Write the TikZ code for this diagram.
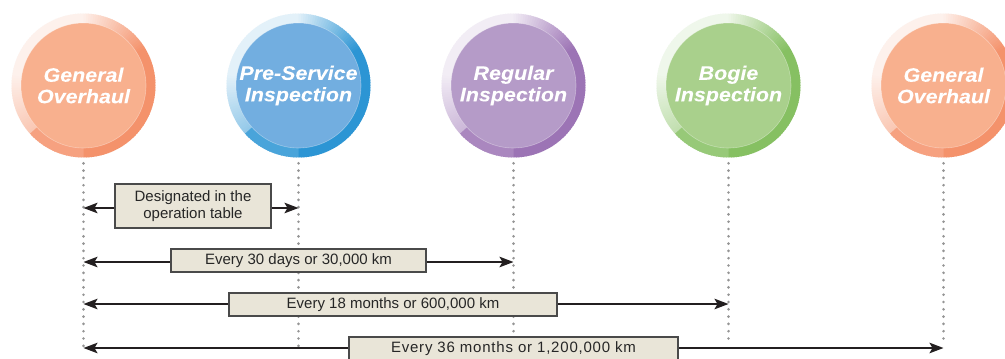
\documentclass[tikz,border=0pt]{standalone}
\usepackage{fontspec}
\setmainfont{Liberation Sans}
\newfontfamily\circfont[FakeStretch=1.1,FakeBold=1.3]{Liberation Sans}
\usetikzlibrary{arrows.meta}
\definecolor{orD}{HTML}{F4926B}
\definecolor{orF}{HTML}{F8B08E}
\definecolor{blD}{HTML}{2C95D4}
\definecolor{blF}{HTML}{72AEE0}
\definecolor{puD}{HTML}{9C74B5}
\definecolor{puF}{HTML}{B59BC8}
\definecolor{grD}{HTML}{86C062}
\definecolor{grF}{HTML}{A9D08C}
\definecolor{boxF}{HTML}{E9E5D8}
\definecolor{boxD}{HTML}{4A4A4A}
\definecolor{arrC}{HTML}{231F20}
\definecolor{dotC}{HTML}{959595}
\newcommand\drawring[3]{%
  \foreach \a in {0,2,...,358}{%
    \pgfmathsetmacro\p{\a<30 ? 100 : (\a<90 ? 100-(\a-30)*1.45 : (\a<170 ? 13 : (\a<222 ? 13+(\a-170)*0.75 : (\a<270 ? 86 : 100))))}%
    \fill[#3!\p!white] (#1,#2) -- ++(\a:72pt) arc[start angle=\a, end angle=\a+2.6, radius=72pt] -- cycle;
  }}
\tikzset{
  inner/.style={circle, fill=#1, draw=white, draw opacity=0.35, line width=0.6pt,
    minimum size=125pt, inner sep=0pt, align=center, text=white,
    font=\circfont\bfseries\itshape\fontsize{19.5}{21.5}\selectfont},
  dotline/.style={draw=dotC, line width=2.9pt, line cap=round, dash pattern=on 0pt off 7.3pt},
  tip/.style={},
  arr/.style={draw=arrC, line width=1.9pt, {Stealth[length=14pt,width=10.5pt,inset=3pt]}-{Stealth[length=14pt,width=10.5pt,inset=3pt]}},
  tbox/.style={draw=boxD, fill=boxF, line width=1.1pt, inner sep=0pt, align=center,
    font=\fontsize{15}{17.5}\selectfont, text=black!85}
}
\begin{document}
\begin{tikzpicture}[x=1pt, y=-1pt]
\useasboundingbox (0,0) rectangle (1005,359);
\fill[white] (0,0) rectangle (1005,359);
% circles
\drawring{83.5}{85.5}{orD}
\node[inner=orF] (go1) at (83.5,85.5) {General\\Overhaul};
\drawring{298.5}{85.5}{blD}
\node[inner=blF] (psi) at (298.5,85.5) {Pre-Service\\Inspection};
\drawring{513.5}{85.5}{puD}
\node[inner=puF] (ri) at (513.5,85.5) {Regular\\Inspection};
\drawring{728.5}{85.5}{grD}
\node[inner=grF] (bi) at (728.5,85.5) {Bogie\\Inspection};
\drawring{943.5}{85.5}{orD}
\node[inner=orF] (go2) at (943.5,85.5) {General\\Overhaul};
% dotted guide lines
\coordinate (go1e) at (83.5,346);
\coordinate (psie) at (298.5,346);
\coordinate (rie) at (513.5,346);
\coordinate (bie) at (728.5,344);
\coordinate (go2e) at (943.5,344);
\draw[dotline] (go1.south) ++(0,15) -- (go1e);
\draw[dotline] (psi.south) ++(0,15) -- (psie);
\draw[dotline] (ri.south) ++(0,15) -- (rie);
\draw[dotline] (bi.south) ++(0,15) -- (bie);
\draw[dotline] (go2.south) ++(0,15) -- (go2e);
% arrow end points
\coordinate (a1l) at (83.5,208);
\coordinate (a1r) at (298.5,208);
\coordinate (a2l) at (83.5,262);
\coordinate (a2r) at (513.5,262);
\coordinate (a3l) at (83.5,304);
\coordinate (a3r) at (728.5,304);
\coordinate (a4l) at (83.5,348);
\coordinate (a4r) at (943.5,348);
\draw[arr] (a1l) -- (a1r);
\draw[arr] (a2l) -- (a2r);
\draw[arr] (a3l) -- (a3r);
\draw[arr] (a4l) -- (a4r);
% labels
\node[tbox, minimum width=156pt, minimum height=44pt] (b1) at (193,206) {Designated in the\\operation table};
\node[tbox, minimum width=255pt, minimum height=23pt] (b2) at (298.5,260.5) {Every 30 days or 30,000 km};
\node[tbox, minimum width=328pt, minimum height=23pt] (b3) at (393,304.5) {Every 18 months or 600,000 km};
\node[tbox, minimum width=329pt, minimum height=24pt] (b4) at (513.5,349) {\addfontfeatures{LetterSpace=5.3}Every 36 months or 1,200,000 km};
\end{tikzpicture}
\end{document}
